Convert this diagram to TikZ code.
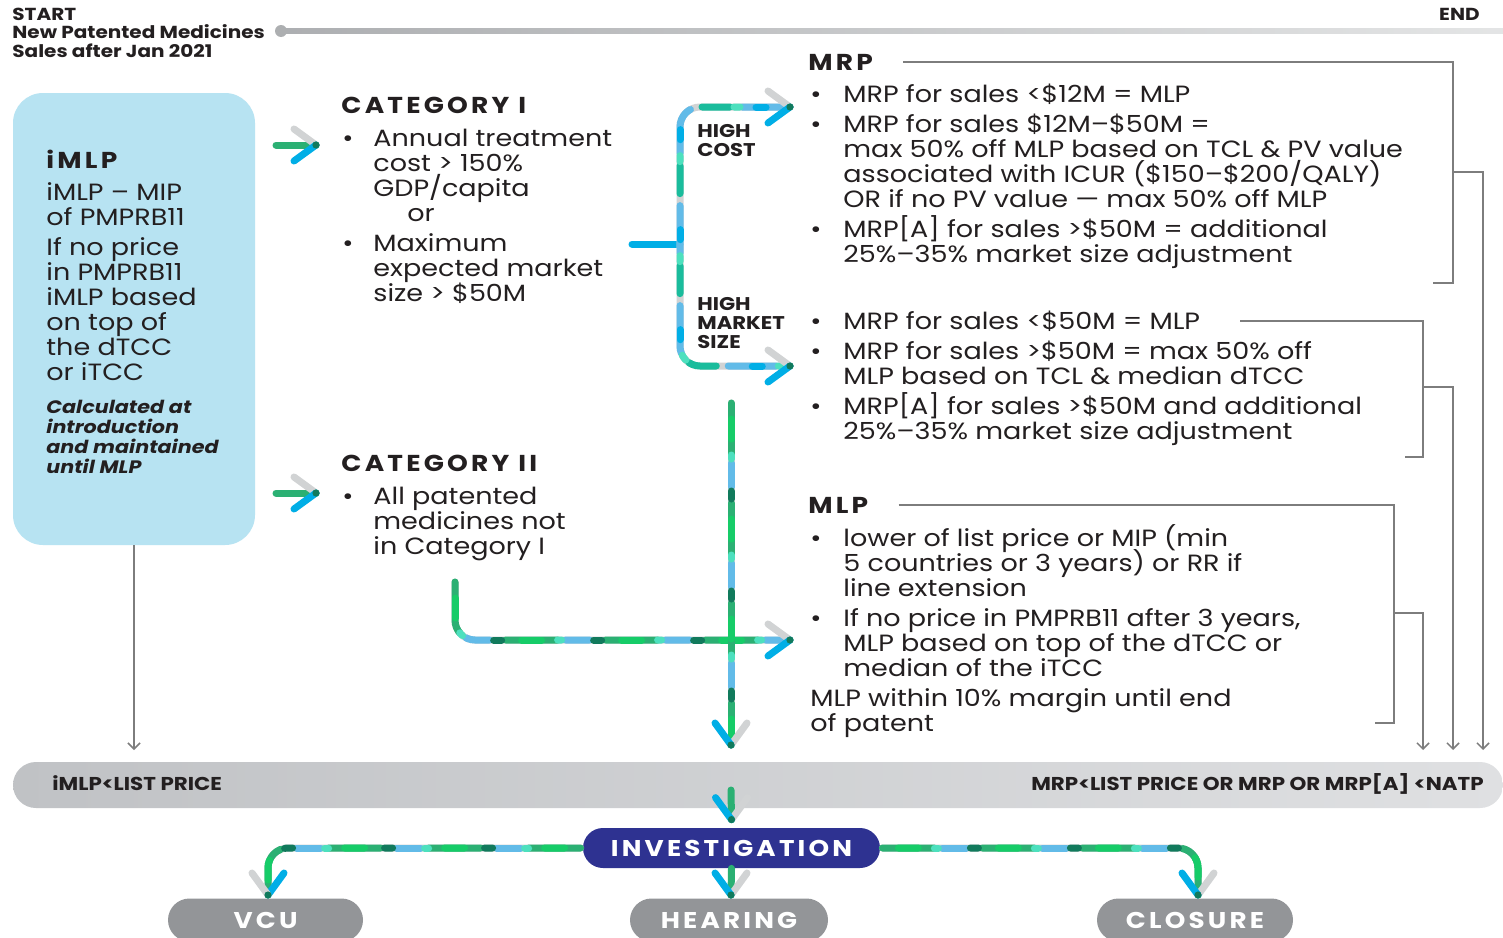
\documentclass[tikz,border=0pt]{standalone}
\usepackage{fontspec}
\usepackage{array}
\setmainfont{Poppins}[FakeStretch=1.15]
\newfontfamily\spacedfont{Poppins}[LetterSpace=14,FakeStretch=1.15]
\usetikzlibrary{arrows.meta,positioning}

\definecolor{ink}{RGB}{35,31,32}
\definecolor{boxblue}{RGB}{183,227,242}
\definecolor{navy}{RGB}{46,50,145}
\definecolor{pillgray}{RGB}{147,149,152}
\definecolor{brgray}{RGB}{125,125,125}
\definecolor{mgray}{RGB}{209,211,212}
\definecolor{mgreen}{RGB}{43,176,115}
\definecolor{mlime}{RGB}{22,204,104}
\definecolor{mmint}{RGB}{77,224,190}
\definecolor{mteal}{RGB}{26,188,156}
\definecolor{mblue}{RGB}{98,187,232}
\definecolor{mcyan}{RGB}{0,174,230}
\definecolor{mdark}{RGB}{17,122,92}
\definecolor{barl}{RGB}{192,194,197}
\definecolor{barr}{RGB}{223,224,226}

\newcommand{\bodyfnt}{\fontsize{11.75}{12.5}\selectfont}
\newcommand{\headfnt}{\spacedfont\bfseries\fontsize{11.5}{12}\selectfont}
\newcommand{\tagfnt}{\bfseries\fontsize{9.2}{9.5}\selectfont}
\newcommand{\notefnt}{\bfseries\itshape\fontsize{9}{10}\selectfont}
\newcommand{\topfnt}{\bfseries\fontsize{8.7}{9.25}\selectfont}
\newcommand{\barfnt}{\bfseries\fontsize{9.3}{9.5}\selectfont}
\newcommand{\pillfnt}{\spacedfont\bfseries\fontsize{11.4}{12}\selectfont}
\newcommand{\bl}{\textbullet}
% smashed column, rows keep the strut spacing
\newcolumntype{L}{>{\setbox0=\hbox\bgroup}l<{\egroup\smash{\box0}}}

% chevron tip: position, angle, upper stroke, lower stroke
\newcommand{\metrotip}[4]{%
  \begin{scope}[shift={#1},rotate=#2]
    \draw[tipstroke,#3] (-22,-16) -- (0,0);
    \draw[tipstroke,#4] (-22,16) -- (0,0);
    \fill[mdark] (0,0) circle (3.6);
  \end{scope}}

\begin{document}
\begin{tikzpicture}[x=0.5pt,y=-0.5pt]
\tikzset{txt/.style={inner sep=0pt, anchor=base west, text=ink, font=\bodyfnt},
  head/.style={txt, font=\headfnt},
  tag/.style={txt, font=\tagfnt},
  pill/.style={rounded corners=10.75pt, minimum height=21.5pt, inner sep=0pt, text=white, font=\pillfnt},
  tipstroke/.style={line width=3.5pt, line cap=round},
  greenline/.style={draw=mgreen, line width=3.5pt, line cap=round},
  mdash/.style={line width=3.5pt, line cap=round},
  metro/.style={draw=mgray, mdash,
    postaction={draw=mblue, mdash, dash pattern=on 24pt off 26pt},
    postaction={draw=mteal, mdash, dash pattern=on 14pt off 36pt, dash phase=20pt},
    postaction={draw=mmint, mdash, dash pattern=on 3pt off 47pt, dash phase=25pt},
    postaction={draw=mcyan, mdash, dash pattern=on 5pt off 45pt, dash phase=38pt}},
  metrogreen/.style={draw=mgray, mdash,
    postaction={draw=mgreen, mdash, dash pattern=on 26pt off 24pt},
    postaction={draw=mlime, mdash, dash pattern=on 10pt off 40pt, dash phase=42pt},
    postaction={draw=mblue, mdash, dash pattern=on 12pt off 38pt, dash phase=20pt},
    postaction={draw=mmint, mdash, dash pattern=on 2pt off 48pt, dash phase=24pt},
    postaction={draw=mdark, mdash, dash pattern=on 4pt off 46pt, dash phase=6pt}},
  bracket/.style={draw=brgray, line width=0.75pt},
  thinarrow/.style={bracket, -{Straight Barb[length=3pt,width=6pt]}}}

\path[use as bounding box] (0,0) rectangle (1503,937);
\fill[white] (0,0) rectangle (1503,937);
\clip (0,0) rectangle (1503,937);

% time line
\shade[left color=barl!90!black, right color=mgray!60] (281,28.5) rectangle (1503,33.5);
\fill[barl!90!black] (281,31) circle (6);
\node[txt, font=\topfnt] (start) at (12,20) {\begin{tabular}[t]{@{}L@{}}START\\New Patented Medicines\\Sales after Jan 2021\end{tabular}};
\node[txt, font=\topfnt, anchor=base east] (end) at (1480,20) {END};

% iMLP
\node[fill=boxblue, rounded corners=15pt, minimum width=121pt, minimum height=226pt] (imlp) at (134,319) {};
\node[head] (imlptitle) at (46,168) {iMLP};
\node[txt] (imlpbody) at (46,200) {\begin{tabular}[t]{@{}L@{}}
iMLP – MIP\\ of PMPRB11\\[2.5pt] If no price\\ in PMPRB11\\ iMLP based\\ on top of\\ the dTCC\\ or iTCC\end{tabular}};
\node[txt, font=\notefnt] (imlpnote) at (46,413) {\begin{tabular}[t]{@{}L@{}}
Calculated at\\ introduction\\ and maintained\\ until MLP\end{tabular}};

% categories
\node[head] (cat1) at (341,113) {CATEGORY I};
\node[txt] (cat1list) at (342,146) {\begin{tabular}[t]{@{}p{15.5pt}@{}L@{}}
\bl & Annual treatment\\ & cost > 150\%\\ & GDP/capita\\ & \hspace*{17pt}or\\[2.5pt]
\bl & Maximum\\ & expected market\\ & size > \$50M\end{tabular}};
\node[head] (cat2) at (341,471) {CATEGORY II};
\node[txt] (cat2list) at (342,504) {\begin{tabular}[t]{@{}p{15.5pt}@{}L@{}}
\bl & All patented\\ & medicines not\\ & in Category I\end{tabular}};

\node[tag] (hicost) at (697,137) {\begin{tabular}[t]{@{}L@{}}HIGH\\COST\end{tabular}};
\node[tag] (himkt) at (697,310) {\begin{tabular}[t]{@{}L@{}}HIGH\\MARKET\\SIZE\end{tabular}};

% MRP
\node[head] (mrp) at (808,70) {MRP};
\node[txt] (mrplist) at (810,102) {\begin{tabular}[t]{@{}p{16.5pt}@{}L@{}}
\bl & MRP for sales <\$12M = MLP\\[2.5pt]
\bl & MRP for sales \$12M–\$50M =\\
 & max 50\% off MLP based on TCL \& PV value\\
 & associated with ICUR (\$150–\$200/QALY)\\
 & OR if no PV value — max 50\% off MLP\\[2.5pt]
\bl & MRP[A] for sales >\$50M = additional\\
 & 25\%–35\% market size adjustment\end{tabular}};
\node[txt] (mktlist) at (810,329) {\begin{tabular}[t]{@{}p{16.5pt}@{}L@{}}
\bl & MRP for sales <\$50M = MLP\\[2.5pt]
\bl & MRP for sales >\$50M = max 50\% off\\
 & MLP based on TCL \& median dTCC\\[2.5pt]
\bl & MRP[A] for sales >\$50M and additional\\
 & 25\%–35\% market size adjustment\end{tabular}};

% MLP
\node[head] (mlp) at (808,513) {MLP};
\node[txt] (mlplist) at (810,546) {\begin{tabular}[t]{@{}p{16.5pt}@{}L@{}}
\bl & lower of list price or MIP (min\\
 & 5 countries or 3 years) or RR if\\
 & line extension\\[2.5pt]
\bl & If no price in PMPRB11 after 3 years,\\
 & MLP based on top of the dTCC or\\
 & median of the iTCC\\[2.5pt]
\multicolumn{2}{@{}L@{}}{MLP within 10\% margin until end}\\
\multicolumn{2}{@{}L@{}}{of patent}\end{tabular}};

% brackets
\coordinate (b1a) at (1453,283); \coordinate (b1m) at (1453,172); \coordinate (b1e) at (1483,750);
\coordinate (b2s) at (1240,321); \coordinate (b2a) at (1423,457); \coordinate (b2m) at (1423,387); \coordinate (b2e) at (1453,750);
\coordinate (b3a) at (1394,723); \coordinate (b3m) at (1394,613); \coordinate (b3e) at (1423,750);
\draw[bracket] ([xshift=15pt]mrp.east) -| (b1a) -- ++(-20,0);
\draw[thinarrow] (b1m) -| (b1e);
\draw[bracket] (b2s) -| (b2a) -- ++(-18,0);
\draw[thinarrow] (b2m) -| (b2e);
\draw[bracket] ([xshift=15pt]mlp.east) -| (b3a) -- ++(-19,0);
\draw[thinarrow] (b3m) -| (b3e);
\draw[thinarrow] (imlp.south) -- (134,750);

% price bar
\shade[left color=barl, right color=barr, rounded corners=11.5pt] (13,762) rectangle (1503,808);
\node[txt, font=\barfnt] (barleft) at (52,790) {iMLP<LIST PRICE};
\node[txt, font=\barfnt, anchor=base east] (barright) at (1484,790) {MRP<LIST PRICE OR MRP OR MRP[A] <NATP};

% outcome pills
\node[pill, fill=navy, minimum width=148.5pt, minimum height=20pt, rounded corners=10pt] (inv) at (731.5,848) {INVESTIGATION};
\node[pill, fill=pillgray, minimum width=97.5pt] (vcu) at (265.5,920) {VCU};
\node[pill, fill=pillgray, minimum width=99pt] (hearing) at (729,920) {HEARING};
\node[pill, fill=pillgray, minimum width=98pt] (closure) at (1195,920) {CLOSURE};

% metro connectors
\coordinate (cat1tip) at (316,145);
\coordinate (cat2tip) at (316,493);
\coordinate (fork) at (680,244);
\coordinate (hctip) at (790,107);
\coordinate (hmtip) at (790,366);
\coordinate (c2start) at (455,582);
\coordinate (c2tip) at (790,640);
\coordinate (vtop) at (731,403);
\coordinate (vtip) at (731,745);
\coordinate (invtip) at ([yshift=4pt]inv.north);
\coordinate (vcutip) at (268,895);
\coordinate (heartip) at (731,895);
\coordinate (clotip) at (1198,895);

\draw[greenline] ([xshift=-20pt]cat1tip) -- (cat1tip);
\draw[greenline] ([xshift=-20pt]cat2tip) -- (cat2tip);
\draw[draw=mcyan, line width=3.5pt, line cap=round] (632,244) -- (fork);
\draw[metro, rounded corners=10pt] (hctip) -- (hctip -| fork) -- (hmtip -| fork) -- (hmtip);
\draw[metrogreen, rounded corners=10pt] (c2start) |- (c2tip);
\draw[metrogreen] (vtop) -- (vtip);
\draw[greenline] (731,790) -- (invtip);
\draw[metrogreen, rounded corners=10pt] ([xshift=-1pt]inv.west) -| (vcutip);
\draw[metrogreen, rounded corners=10pt] ([xshift=1pt]inv.east) -| (clotip);
\draw[greenline] (inv.south) -- (heartip);

\metrotip{(cat1tip)}{0}{mgray}{mcyan}
\metrotip{(cat2tip)}{0}{mgray}{mcyan}
\metrotip{(hctip)}{0}{mgray}{mcyan}
\metrotip{(hmtip)}{0}{mgray}{mcyan}
\metrotip{(c2tip)}{0}{mgray}{mcyan}
\metrotip{(vtip)}{-90}{mgray}{mcyan}
\metrotip{(invtip)}{-90}{mgray}{mcyan}
\metrotip{(vcutip)}{-90}{mcyan}{mgray}
\metrotip{(heartip)}{-90}{mgray}{mcyan}
\metrotip{(clotip)}{-90}{mgray}{mcyan}
\end{tikzpicture}
\end{document}
